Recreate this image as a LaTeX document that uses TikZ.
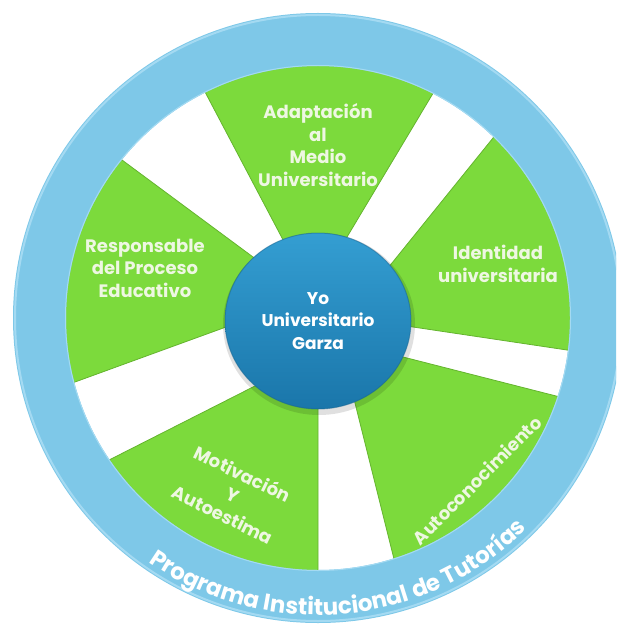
\documentclass[tikz,border=0pt]{standalone}
\usepackage{fontspec}
\setmainfont{Poppins}
\usetikzlibrary{calc,decorations.text}
\definecolor{ringblue}{RGB}{126,200,232}
\definecolor{ringedge}{RGB}{164,218,242}
\definecolor{segGreen}{RGB}{124,218,60}
\definecolor{segEdge}{RGB}{100,180,46}
\definecolor{segText}{RGB}{238,247,226}
\definecolor{hubTop}{RGB}{52,158,210}
\definecolor{hubBottom}{RGB}{26,118,170}
\begin{document}
\begin{tikzpicture}[x=1pt,y=-1pt,
  wedge/.style={fill=segGreen, draw=segEdge, line width=0.8pt},
  lbl/.style={text=segText, font=\bfseries\fontsize{18}{22.5}\selectfont, align=center, inner sep=0pt},
  hublbl/.style={text=white, font=\bfseries\fontsize{17}{22.5}\selectfont, align=center, inner sep=0pt}]
\useasboundingbox (0,0) rectangle (616,628);
\clip (0,0) rectangle (616,628);
\coordinate (C) at (318,318);
\coordinate (H) at (318,321);
\coordinate (a1i) at (281,236); \coordinate (a1o) at (204,90);
\coordinate (a2i) at (347,237); \coordinate (a2o) at (432,95);
\coordinate (b1i) at (392,263); \coordinate (b1o) at (493,138);
\coordinate (b2i) at (413,327); \coordinate (b2o) at (567,350);
\coordinate (c1i) at (407,358); \coordinate (c1o) at (560,397);
\coordinate (c2i) at (355,403); \coordinate (c2o) at (393,555);
\coordinate (d1i) at (318,412); \coordinate (d1o) at (318,572);
\coordinate (d2i) at (253,387); \coordinate (d2o) at (113,458);
\coordinate (e1i) at (226,327); \coordinate (e1o) at (75,382);
\coordinate (e2i) at (253,257); \coordinate (e2o) at (122,160);
\begin{scope}
\clip (C) circle[radius=254pt];
\foreach \s in {a,b,c,d,e}{
 \filldraw[wedge] ($(\s1o)!1.3!(\s1i)$) -- ($(\s1i)!4!(\s1o)$) -- ($(\s2i)!4!(\s2o)$) -- ($(\s2o)!1.3!(\s2i)$) -- cycle;
}
\end{scope}
\fill[ringblue, even odd rule] (C) circle[radius=305pt] (C) circle[radius=252pt];
\draw[ringedge, line width=2pt] (C) circle[radius=303pt];
\draw[ringedge, line width=1pt] (C) circle[radius=252.5pt];
\fill[black, opacity=0.12] ($(H)+(1,3)$) ellipse[x radius=96pt, y radius=91pt];
\shade[top color=hubTop, bottom color=hubBottom] (H) ellipse[x radius=93pt, y radius=88pt];
\draw[hubBottom!85!black, opacity=0.5, line width=1pt] (H) ellipse[x radius=93pt, y radius=88pt];
\node[hublbl] (hub) at (H) {Yo\\Universitario\\Garza};
\node[lbl] (adapt) at (318,145) {Adaptación\\al\\Medio\\Universitario};
\node[lbl] (resp) at (145,268) {Responsable\\del Proceso\\Educativo};
\node[lbl] (ident) at (498,264) {Identidad\\universitaria};
\node[lbl, rotate=-26] (motiv) at (233,494) {Motivación\\Y\\Autoestima};
\node[lbl, rotate=45] (auto) at (477,480) {Autoconocimiento};
\path[decorate, decoration={text along path, text align=center,
  text={|\bfseries\fontsize{23}{23}\selectfont\color{white}|Programa Institucional de Tutorías}}]
  ($(C)+(205:297pt)$) arc[start angle=205, end angle=345, radius=297pt];
\end{tikzpicture}
\end{document}
